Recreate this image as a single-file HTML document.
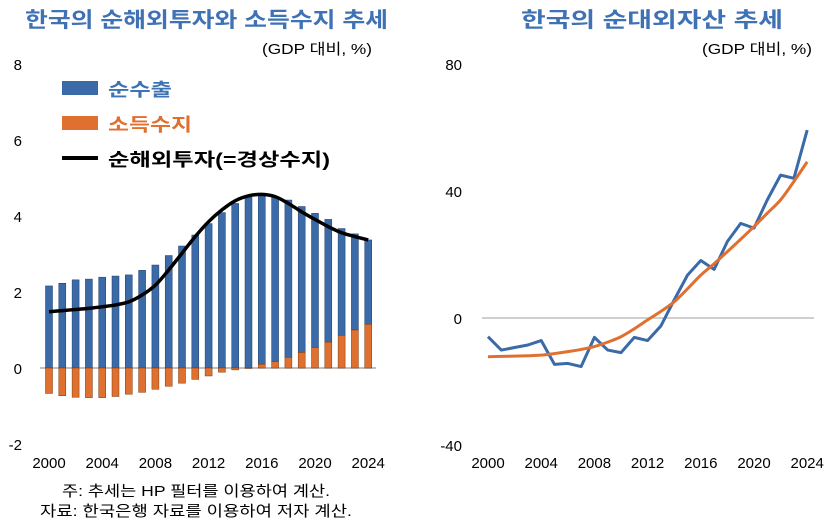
<!DOCTYPE html>
<html><head><meta charset="utf-8">
<style>
body{margin:0;background:#fff;font-family:"Liberation Sans","Noto Sans CJK KR",sans-serif;}
svg text{font-family:"Liberation Sans","Noto Sans CJK KR",sans-serif;}
</style></head>
<body>
<svg width="831" height="521" viewBox="0 0 831 521">
<text x="25" y="27" textLength="363" lengthAdjust="spacingAndGlyphs" font-size="21" font-weight="bold" fill="#3f72b5">한국의 순해외투자와 소득수지 추세</text>
<text x="262" y="54" textLength="110" lengthAdjust="spacingAndGlyphs" font-size="15" fill="#000">(GDP 대비, %)</text>
<text x="521" y="27" textLength="262" lengthAdjust="spacingAndGlyphs" font-size="21" font-weight="bold" fill="#3f72b5">한국의 순대외자산 추세</text>
<text x="702" y="54" textLength="110" lengthAdjust="spacingAndGlyphs" font-size="15" fill="#000">(GDP 대비, %)</text>
<g id="left"></g>
<g id="right"></g>
<g>
<rect x="62" y="81" width="36" height="14" fill="#3b6aa8"/>
<text x="108" y="96" textLength="64" lengthAdjust="spacingAndGlyphs" font-size="18" font-weight="bold" fill="#3f72b5">순수출</text>
<rect x="62" y="116" width="36" height="14" fill="#e07030"/>
<text x="108" y="131" textLength="84" lengthAdjust="spacingAndGlyphs" font-size="18" font-weight="bold" fill="#e07030">소득수지</text>
<line x1="62" y1="158" x2="98" y2="158" stroke="#000" stroke-width="4"/>
<text x="108" y="166" textLength="222" lengthAdjust="spacingAndGlyphs" font-size="18" font-weight="bold" fill="#000">순해외투자(=경상수지)</text>
</g>
<text x="62" y="496" textLength="268" lengthAdjust="spacingAndGlyphs" font-size="15">주: 추세는 HP 필터를 이용하여 계산.</text>
<text x="40" y="516" textLength="312" lengthAdjust="spacingAndGlyphs" font-size="15">자료: 한국은행 자료를 이용하여 저자 계산.</text>
</svg>
<script>
const years=[2000,2001,2002,2003,2004,2005,2006,2007,2008,2009,2010,2011,2012,2013,2014,2015,2016,2017,2018,2019,2020,2021,2022,2023,2024];
const barTotals=[2.16,2.23,2.32,2.34,2.39,2.42,2.45,2.57,2.71,2.96,3.21,3.5,3.8,4.09,4.33,4.49,4.53,4.51,4.42,4.25,4.07,3.91,3.67,3.53,3.37];
const incomeBal=[-0.67,-0.73,-0.77,-0.78,-0.78,-0.75,-0.69,-0.64,-0.56,-0.48,-0.4,-0.3,-0.21,-0.11,-0.05,-0.01,0.1,0.17,0.28,0.41,0.54,0.68,0.86,1.0,1.15];
const investTrend=[1.48,1.51,1.54,1.57,1.61,1.66,1.74,1.92,2.18,2.58,3.02,3.46,3.85,4.16,4.4,4.53,4.57,4.51,4.33,4.11,3.91,3.72,3.56,3.46,3.37];
const leftTicks=[-2,0,2,4,6,8];
const xTickYears=[2000,2004,2008,2012,2016,2020,2024];
const nfa=[-5.9,-10.1,-9.3,-8.5,-7.1,-14.6,-14.3,-15.3,-6.1,-10.1,-10.9,-6.1,-7.1,-2.5,5.7,13.5,18.1,15.3,24.1,29.8,28.3,37.2,45,44,59.2];
const nfaTrend=[-12.2,-12.1,-12.0,-11.9,-11.7,-11.2,-10.6,-9.9,-9.0,-7.6,-5.9,-3.4,-0.6,2.1,5.1,9.2,13.5,17.1,20.9,24.8,28.8,33.0,37.2,43.0,49.2];
const rightTicks=[-40,0,40,80];
const NS="http://www.w3.org/2000/svg";
function mk(p,t,a){const e=document.createElementNS(NS,t);for(const k in a)e.setAttribute(k,a[k]);p.appendChild(e);return e;}
function smooth(pts){let d='M'+pts[0][0]+','+pts[0][1];for(let i=0;i<pts.length-1;i++){const p0=pts[i-1]||pts[i],p1=pts[i],p2=pts[i+1],p3=pts[i+2]||p2;
d+=' C'+(p1[0]+(p2[0]-p0[0])/6)+','+(p1[1]+(p2[1]-p0[1])/6)+' '+(p2[0]-(p3[0]-p1[0])/6)+','+(p2[1]-(p3[1]-p1[1])/6)+' '+p2[0]+','+p2[1];}return d;}
// left
const L=document.getElementById('left');
const lx=y=>49+(y-2000)*13.3, ly=v=>368-v*38;
mk(L,'line',{x1:40,x2:376,y1:ly(0),y2:ly(0),stroke:'#bfbfbf','stroke-width':2});
leftTicks.forEach(t=>{const e=mk(L,'text',{x:22,y:ly(t)+6,'text-anchor':'end','font-size':15});e.textContent=t;

});
years.forEach((y,i)=>{const inc=incomeBal[i],tot=barTotals[i];const base=inc>0?inc:0;
const b=mk(L,'rect',{x:lx(y)-3.5,y:ly(tot),width:7,height:ly(base)-ly(tot),fill:'#3b6aa8',stroke:'#1f3f66','stroke-width':0.5});


const o=mk(L,'rect',{x:lx(y)-3.5,y:Math.min(ly(0),ly(inc)),width:7,height:Math.abs(ly(inc)-ly(0)),fill:'#e07030',stroke:'#7a3a10','stroke-width':0.5});

});
const lp=mk(L,'path',{d:smooth(years.map((y,i)=>[lx(y),ly(investTrend[i])])),fill:'none',stroke:'#000','stroke-width':3.5});


xTickYears.forEach(y=>{const e=mk(L,'text',{x:lx(y),y:468,'text-anchor':'middle','font-size':15});e.textContent=y;

});
// right
const R=document.getElementById('right');
const rx=y=>488+(y-2000)*13.3, ry=v=>318-v*3.175;
mk(R,'line',{x1:482,x2:814,y1:ry(0),y2:ry(0),stroke:'#bfbfbf','stroke-width':1.5});
rightTicks.forEach(t=>{const e=mk(R,'text',{x:462,y:ry(t)+6,'text-anchor':'end','font-size':15});e.textContent=t;

});
const r1=mk(R,'polyline',{points:years.map((y,i)=>rx(y)+','+ry(nfa[i])).join(' '),fill:'none',stroke:'#3b6aa8','stroke-width':3,'stroke-linejoin':'round'});


const r2=mk(R,'path',{d:smooth(years.map((y,i)=>[rx(y),ry(nfaTrend[i])])),fill:'none',stroke:'#e07030','stroke-width':3});


xTickYears.forEach(y=>{const e=mk(R,'text',{x:rx(y),y:468,'text-anchor':'middle','font-size':15});e.textContent=y;

});
</script>
</body></html>
